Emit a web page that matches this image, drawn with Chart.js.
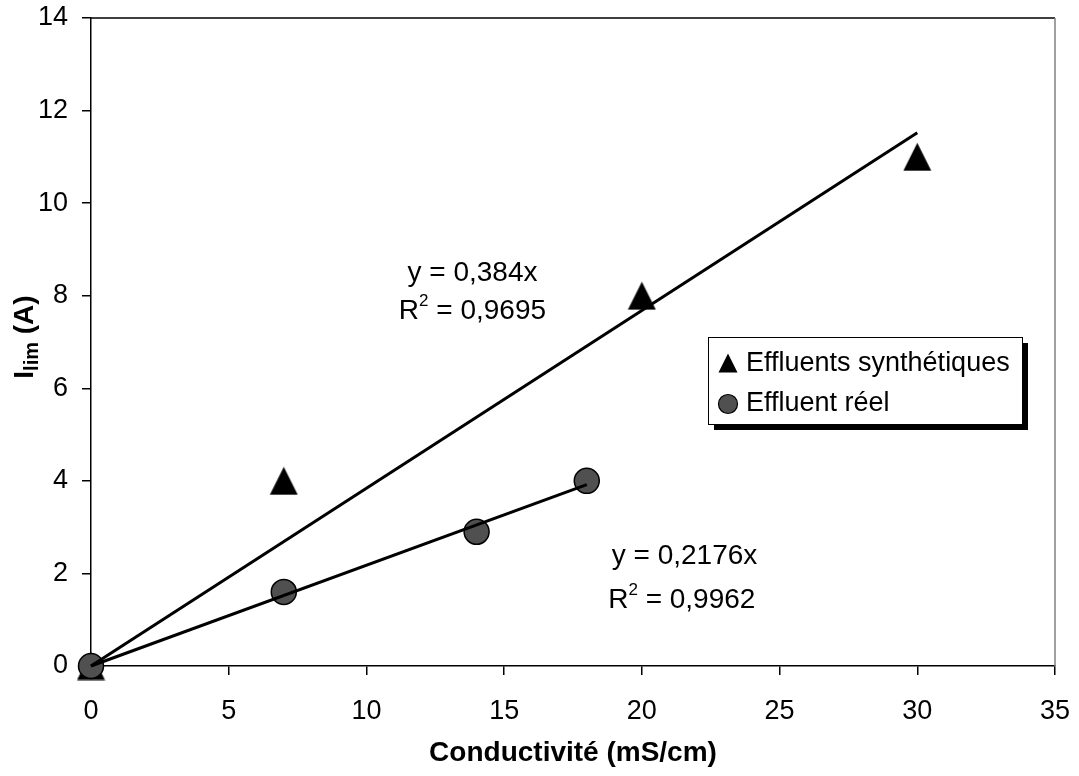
<!DOCTYPE html>
<html>
<head>
<meta charset="utf-8">
<script src="https://cdn.jsdelivr.net/npm/chart.js@4.4.0/dist/chart.umd.min.js"></script>
<style>
  html, body { margin: 0; padding: 0; background: #fff; }
  #wrap { width: 1079px; height: 776px; }
</style>
</head>
<body>
<div id="wrap"><canvas id="chart" width="1079" height="776"></canvas></div>
<script>
// data
const synthX = [0, 7, 20, 30]
const synthY = [0, 4, 8, 11]
const reelX = [0, 7, 14, 18]
const reelY = [0, 1.6, 2.9, 4.0]
// trend lines (ends of the drawn segments)
const trendSynthX = [0, 30]
const trendSynthY = [0, 11.52]
const trendReelX = [0, 18]
const trendReelY = [0, 3.92]
const xTicks = [0, 5, 10, 15, 20, 25, 30, 35]
const yTicks = [0, 2, 4, 6, 8, 10, 12, 14]
const seriesNames = ['Effluents synthétiques', 'Effluent réel']
const eqSynth = ['y = 0,384x', '0,9695']
const eqReel = ['y = 0,2176x', '0,9962']

const FONT = '"Liberation Sans", Arial, sans-serif'

function toPoints(xs, ys) {
  return xs.map((x, i) => ({x: x, y: ys[i]}))
}

// triangle marker as an image so it is centred like the original
function makeTriangle(size) {
  const c = document.createElement('canvas')
  c.width = size; c.height = size
  const g = c.getContext('2d')
  g.fillStyle = '#000'
  g.beginPath()
  g.moveTo(size / 2, 0.5)
  g.lineTo(size - 0.5, size - 0.5)
  g.lineTo(0.5, size - 0.5)
  g.closePath()
  g.fill()
  return c
}
const triBig = makeTriangle(29)
const triSmall = makeTriangle(20)

// text with a superscript 2 in "R2 = ..."
function drawR2(ctx, value, cx, cy, size) {
  const big = size + 'px ' + FONT
  const small = Math.round(size * 0.62) + 'px ' + FONT
  ctx.font = big
  const wR = ctx.measureText('R').width
  const wRest = ctx.measureText(' = ' + value).width
  ctx.font = small
  const w2 = ctx.measureText('2').width
  let x = cx - (wR + w2 + wRest) / 2
  ctx.textAlign = 'left'
  ctx.textBaseline = 'middle'
  ctx.font = big
  ctx.fillText('R', x, cy)
  x += wR
  ctx.font = small
  ctx.fillText('2', x, cy - size * 0.33)
  x += w2
  ctx.font = big
  ctx.fillText(' = ' + value, x, cy)
}

// keep tick labels from shrinking the plot area
function noOverflow(scale) {
  scale.paddingLeft = 0
  scale.paddingRight = 0
  scale.paddingTop = 0
  scale.paddingBottom = 0
}

const extras = {
  id: 'extras',
  afterDraw(chart) {
    const ctx = chart.ctx
    const a = chart.chartArea
    const xs = chart.scales.x, ys = chart.scales.y
    ctx.save()

    // plot frame: top black, right grey
    ctx.lineWidth = 1.5
    ctx.strokeStyle = '#000'
    ctx.beginPath(); ctx.moveTo(a.left, a.top); ctx.lineTo(a.right, a.top); ctx.stroke()
    ctx.strokeStyle = '#808080'
    ctx.beginPath(); ctx.moveTo(a.right, a.top); ctx.lineTo(a.right, a.bottom); ctx.stroke()

    // equations
    ctx.fillStyle = '#000'
    ctx.textAlign = 'center'
    ctx.textBaseline = 'middle'
    ctx.font = '28px ' + FONT
    ctx.fillText(eqSynth[0], xs.getPixelForValue(13.85), ys.getPixelForValue(8.49))
    drawR2(ctx, eqSynth[1], xs.getPixelForValue(13.85), ys.getPixelForValue(7.67), 28)
    ctx.textAlign = 'center'
    ctx.font = '28px ' + FONT
    ctx.fillText(eqReel[0], xs.getPixelForValue(21.55), ys.getPixelForValue(2.36))
    drawR2(ctx, eqReel[1], xs.getPixelForValue(21.45), ys.getPixelForValue(1.43), 28)

    // legend box with shadow
    const lx = 708, ly = 337, lw = 314, lh = 87
    ctx.fillStyle = '#000'
    ctx.fillRect(lx + 6, ly + 6, lw, lh)
    ctx.fillStyle = '#fff'
    ctx.fillRect(lx, ly, lw, lh)
    ctx.strokeStyle = '#000'
    ctx.lineWidth = 1
    ctx.strokeRect(lx + 0.5, ly + 0.5, lw, lh)
    ctx.drawImage(triSmall, 718, 353)
    ctx.beginPath()
    ctx.arc(728, 404, 9.5, 0, Math.PI * 2)
    ctx.fillStyle = '#505050'
    ctx.fill()
    ctx.lineWidth = 1.2
    ctx.strokeStyle = '#000'
    ctx.stroke()
    ctx.fillStyle = '#000'
    ctx.font = '27px ' + FONT
    ctx.textAlign = 'left'
    ctx.textBaseline = 'middle'
    ctx.fillText(seriesNames[0], 746, 364)
    ctx.fillText(seriesNames[1], 746, 404)

    // y axis title: I_lim (A)
    ctx.translate(33, 337)
    ctx.rotate(-Math.PI / 2)
    const fb = 'bold 28px ' + FONT, fs = 'bold 20px ' + FONT
    ctx.font = fb
    const wI = ctx.measureText('I').width
    const wA = ctx.measureText(' (A)').width
    ctx.font = fs
    const wl = ctx.measureText('lim').width
    let x = -(wI + wl + wA) / 2
    ctx.textBaseline = 'alphabetic'
    ctx.font = fb
    ctx.fillText('I', x, 0)
    x += wI
    ctx.font = fs
    ctx.fillText('lim', x, 5)
    x += wl
    ctx.font = fb
    ctx.fillText(' (A)', x, 0)
    ctx.restore()
  }
}

new Chart(document.getElementById('chart'), {
  type: 'scatter',
  data: {
    datasets: [
      {
        label: 'trend synth',
        data: toPoints(trendSynthX, trendSynthY),
        showLine: true,
        borderColor: '#000',
        borderWidth: 3,
        pointRadius: 0,
        clip: false,
        order: 0
      },
      {
        label: 'trend reel',
        data: toPoints(trendReelX, trendReelY),
        showLine: true,
        borderColor: '#000',
        borderWidth: 3,
        pointRadius: 0,
        clip: false,
        order: 0
      },
      {
        label: seriesNames[0],
        data: toPoints(synthX, synthY),
        pointStyle: triBig,
        pointRadius: 15,
        pointHoverRadius: 15,
        clip: false,
        order: 2
      },
      {
        label: seriesNames[1],
        data: toPoints(reelX, reelY),
        pointStyle: 'circle',
        pointRadius: 12.5,
        pointHoverRadius: 12.5,
        backgroundColor: '#505050',
        borderColor: '#000',
        borderWidth: 1.5,
        clip: false,
        order: 1
      }
    ]
  },
  options: {
    responsive: false,
    animation: false,
    layout: { padding: { top: 18, right: 24, left: 0, bottom: 0 } },
    plugins: {
      legend: { display: false },
      tooltip: { enabled: false }
    },
    scales: {
      x: {
        type: 'linear',
        min: 0,
        max: 35,
        afterBuildTicks(scale) { scale.ticks = xTicks.map(v => ({value: v})) },
        afterFit(scale) { scale.height = 110; noOverflow(scale) },
        grid: { drawOnChartArea: false, drawTicks: true, tickLength: 9, color: '#000', lineWidth: 1.5 },
        border: { color: '#000', width: 1.5 },
        ticks: { color: '#000', font: { family: FONT, size: 27 }, padding: 20, maxRotation: 0 },
        title: {
          display: true,
          text: 'Conductivité (mS/cm)',
          color: '#000',
          font: { family: FONT, size: 28, weight: 'bold' },
          padding: { top: 0, bottom: 6 }
        }
      },
      y: {
        type: 'linear',
        min: 0,
        max: 14,
        afterBuildTicks(scale) { scale.ticks = yTicks.map(v => ({value: v})) },
        afterFit(scale) { scale.width = 91; noOverflow(scale) },
        grid: { drawOnChartArea: false, drawTicks: true, tickLength: 9, color: '#000', lineWidth: 1.5 },
        border: { color: '#000', width: 1.5 },
        ticks: { color: '#000', font: { family: FONT, size: 27 }, padding: 14 }
      }
    }
  },
  plugins: [extras]
});
</script>
</body>
</html>
